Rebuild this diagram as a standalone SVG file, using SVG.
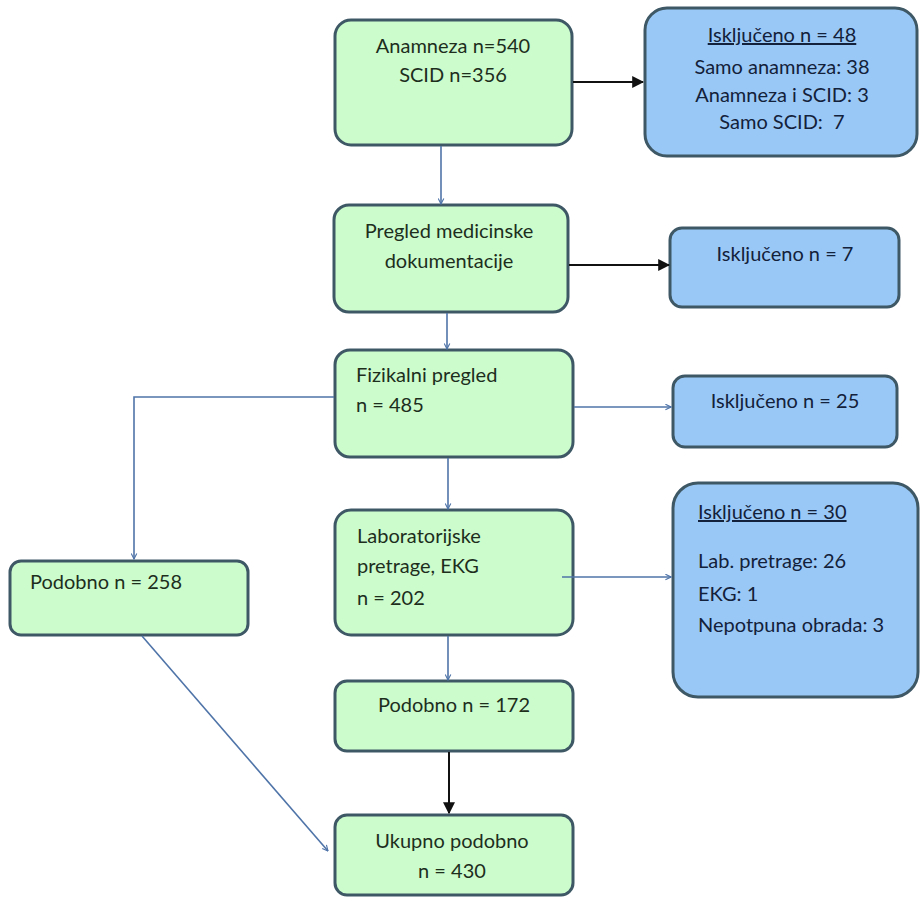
<svg xmlns="http://www.w3.org/2000/svg" width="920" height="904" viewBox="0 0 920 904">
<style>
.g{fill:#ccfccc;stroke:#3e5866;stroke-width:3}
.b{fill:#99c8f6;stroke:#3e5866;stroke-width:3}
.t{font-family:Lato,"Liberation Sans",sans-serif;font-size:20px;fill:#1d2e1d;white-space:pre}
.tb{font-family:Lato,"Liberation Sans",sans-serif;font-size:20px;fill:#13213a;white-space:pre}
.c{text-anchor:middle}
.u{text-decoration:underline}
.bl{fill:none;stroke:#4f74a8;stroke-width:1.6}
.bk{fill:none;stroke:#111;stroke-width:2}
</style>
<defs>
<marker id="ab" viewBox="0 0 10 10" refX="9" refY="5" markerWidth="7" markerHeight="7" markerUnits="userSpaceOnUse" orient="auto">
<path d="M1,1 L9,5 L1,9" fill="none" stroke="#4f74a8" stroke-width="1.6"/>
</marker>
<marker id="ak" viewBox="0 0 10 10" refX="9" refY="5" markerWidth="12" markerHeight="12" markerUnits="userSpaceOnUse" orient="auto">
<path d="M0,0 L10,5 L0,10 Z" fill="#111"/>
</marker>
</defs>
<g id="anamneza">
<rect class="g" x="335" y="20" width="237" height="125" rx="16"/>
<text class="t c" x="453" y="53">Anamneza n=540</text>
<text class="t c" x="453" y="82">SCID n=356</text>
</g>
<g id="iskljuceno48">
<rect class="b" x="645" y="8" width="272" height="148" rx="22"/>
<text class="tb c u" x="782" y="42">Isključeno n = 48</text>
<text class="tb c" x="782" y="74">Samo anamneza: 38</text>
<text class="tb c" x="782" y="102">Anamneza i SCID: 3</text>
<text class="tb c" x="782" y="129" xml:space="preserve">Samo SCID:  7</text>
</g>
<g id="pregled">
<rect class="g" x="334" y="205" width="234" height="107" rx="15"/>
<text class="t c" x="449" y="238">Pregled medicinske</text>
<text class="t c" x="449" y="268">dokumentacije</text>
</g>
<g id="iskljuceno7">
<rect class="b" x="670" y="228" width="229" height="79" rx="12"/>
<text class="tb c" x="785" y="261">Isključeno n = 7</text>
</g>
<g id="fizikalni">
<rect class="g" x="335" y="350" width="238" height="107" rx="15"/>
<text class="t" x="356" y="382">Fizikalni pregled</text>
<text class="t" x="356" y="412">n = 485</text>
</g>
<g id="iskljuceno25">
<rect class="b" x="673" y="376" width="224" height="71" rx="12"/>
<text class="tb c" x="785" y="408">Isključeno n = 25</text>
</g>
<g id="podobno258">
<rect class="g" x="10" y="561" width="238" height="74" rx="11"/>
<text class="t" x="30" y="589">Podobno n = 258</text>
</g>
<g id="laboratorijske">
<rect class="g" x="335" y="510" width="238" height="125" rx="16"/>
<text class="t" x="357" y="543">Laboratorijske</text>
<text class="t" x="357" y="573">pretrage, EKG</text>
<text class="t" x="357" y="605">n = 202</text>
</g>
<g id="iskljuceno30">
<rect class="b" x="673" y="483" width="245" height="214" rx="25"/>
<text class="tb u" x="698" y="519">Isključeno n = 30</text>
<text class="tb" x="698" y="568">Lab. pretrage: 26</text>
<text class="tb" x="698" y="601">EKG: 1</text>
<text class="tb" x="698" y="632">Nepotpuna obrada: 3</text>
</g>
<g id="podobno172">
<rect class="g" x="335" y="681" width="238" height="70" rx="12"/>
<text class="t c" x="454" y="712">Podobno n = 172</text>
</g>
<g id="ukupno">
<rect class="g" x="335" y="815" width="238" height="80" rx="12"/>
<text class="t c" x="452" y="848">Ukupno podobno</text>
<text class="t c" x="452" y="878">n = 430</text>
</g>
<g id="connectors">
<line class="bk" x1="573" y1="82" x2="643" y2="82" marker-end="url(#ak)"/>
<line class="bl" x1="441" y1="146" x2="441" y2="204" marker-end="url(#ab)"/>
<line class="bk" x1="569" y1="265" x2="669" y2="265" marker-end="url(#ak)"/>
<line class="bl" x1="447" y1="313" x2="447" y2="349" marker-end="url(#ab)"/>
<line class="bl" x1="574" y1="407" x2="671" y2="407" marker-end="url(#ab)"/>
<polyline class="bl" points="334,397 134,397 134,559" marker-end="url(#ab)"/>
<line class="bl" x1="448" y1="458" x2="448" y2="509" marker-end="url(#ab)"/>
<line class="bl" x1="562" y1="577" x2="671" y2="577" marker-end="url(#ab)"/>
<line class="bl" x1="448" y1="636" x2="448" y2="680" marker-end="url(#ab)"/>
<line class="bk" x1="449" y1="752" x2="449" y2="813" marker-end="url(#ak)"/>
<line class="bl" x1="142" y1="636" x2="328" y2="851" marker-end="url(#ab)"/>
</g>
</svg>
